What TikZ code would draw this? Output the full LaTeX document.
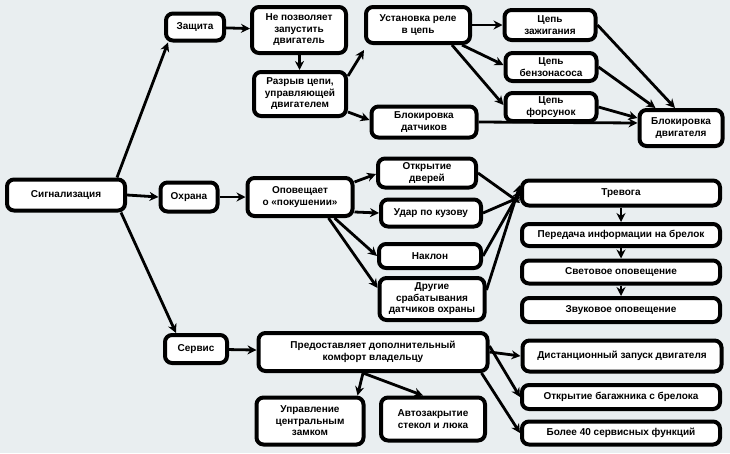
\documentclass[tikz,border=0pt]{standalone}
\usepackage{fontspec}
\setmainfont{Liberation Sans}
\usetikzlibrary{arrows.meta}
\definecolor{bg}{HTML}{E9EEF0}
\begin{document}
\begin{tikzpicture}[x=1pt,y=-1pt,
  box/.style={draw,fill=white,line width=4pt,rounded corners=7pt,align=center,inner sep=1pt,font=\bfseries\fontsize{10}{11.5}\selectfont},
  ar/.style={line width=2.8pt,-{Stealth[length=9pt,width=9pt]}}]
\fill[bg] (0,0) rectangle (730,453);
\useasboundingbox (0,0) rectangle (730,453);
\newcommand\bx[6]{\node[box,minimum width=#4-4,minimum height=#5-4] (#1) at (#2,#3) {#6};}
\bx{sig}{66}{195}{122}{35}{Сигнализация}
\bx{zas}{195}{27}{62}{31}{Защита}
\bx{ohr}{189}{197}{61}{33}{Охрана}
\bx{ser}{196}{349}{66}{32}{Сервис}
\bx{nep}{299}{30}{98}{50}{Не позволяет\\запустить\\двигатель}
\bx{raz}{300}{94}{96}{48}{Разрыв цепи,\\управляющей\\двигателем}
\bx{ust}{418}{25}{108}{40}{Установка реле\\в цепь}
\bx{bld}{424}{122}{109}{35}{Блокировка\\датчиков}
\bx{zaz}{550}{25}{95}{34}{Цепь\\зажигания}
\bx{ben}{551}{67}{95}{32}{Цепь\\бензонасоса}
\bx{for}{551}{107}{95}{32}{Цепь\\форсунок}
\bx{bdv}{681}{128}{87}{40}{Блокировка\\двигателя}
\bx{opo}{300}{197}{109}{42}{Оповещает\\о «покушении»}
\bx{otk}{427}{173}{102}{33}{Открытие\\дверей}
\bx{uda}{431}{213}{104}{31}{Удар по кузову}
\bx{nak}{430}{256}{106}{28}{Наклон}
\bx{dru}{432}{299}{109}{46}{Другие\\срабатывания\\датчиков охраны}
\bx{tre}{621}{193}{202}{29}{Тревога}
\bx{per}{621}{235}{202}{26}{Передача информации на брелок}
\bx{sve}{621}{272}{202}{27}{Световое оповещение}
\bx{zvu}{621}{310}{202}{28}{Звуковое оповещение}
\bx{pre}{373}{352}{233}{42}{Предоставляет дополнительный\\комфорт владельцу}
\bx{dis}{622}{356}{203}{35}{Дистанционный запуск двигателя}
\bx{bag}{621}{397}{202}{28}{Открытие багажника с брелока}
\bx{bol}{621}{433}{202}{27}{Более 40 сервисных функций}
\bx{upr}{310}{421}{111}{51}{Управление\\центральным\\замком}
\bx{avt}{433}{419}{108}{47}{Автозакрытие\\стекол и люка}
\draw[ar] ([xshift=-10pt]sig.north east) -- ([xshift=4pt]zas.south west);
\draw[ar] (sig.east) -- (ohr.west);
\draw[ar] ([xshift=-6pt]sig.south east) -- ([xshift=-20pt]ser.north);
\draw[ar] (zas) -- (nep);
\draw[ar] (nep) -- (raz);
\draw[ar] ([yshift=-6pt]raz.north east) -- ([yshift=-5pt]ust.south west);
\draw[ar] ([yshift=6pt]raz.south east) -- ([yshift=2pt]bld.west);
\draw[ar] (ust.east) -- (zaz.west);
\draw[ar] ([xshift=-10pt]ust.south east) -- ([yshift=2pt]ben.west);
\draw[ar] ([xshift=-20pt]ust.south east) -- ([yshift=2pt]for.west);
\draw[ar] (zaz.east) -- ([xshift=-6pt]bdv.north);
\draw[ar] (ben.east) -- ([xshift=18pt]bdv.north west);
\draw[ar] (for.east) -- ([yshift=10pt]bdv.west);
\draw[ar] (bld.east) -- ([yshift=5pt]bdv.west);
\draw[ar] (ohr) -- (opo);
\draw[ar] ([yshift=-6pt]opo.north east) -- ([yshift=-1pt]otk.west);
\draw[ar] ([yshift=6pt]opo.south east) -- (uda.west);
\draw[ar] ([xshift=-20pt]opo.south east) -- (nak.west);
\draw[ar] ([xshift=-26pt]opo.south east) -- ([yshift=-12pt]dru.north west);
\draw[ar] (otk.east) -- ([yshift=-10pt]tre.west);
\draw[ar] (uda.east) -- ([yshift=-4pt]tre.west);
\draw[ar] (nak.east) -- ([yshift=2pt]tre.west);
\draw[ar] ([yshift=-14pt]dru.north east) -- ([yshift=8pt]tre.west);
\draw[ar] (tre) -- (per);
\draw[ar] (per) -- (sve);
\draw[ar] (sve) -- (zvu);
\draw[ar] (ser) -- (pre);
\draw[ar] (pre.east) -- (dis.west);
\draw[ar] ([yshift=6pt]pre.east) -- (bag.west);
\draw[ar] ([xshift=-8pt]pre.south east) -- (bol.west);
\draw[ar] ([xshift=-10pt]pre.south) -- ([xshift=-8pt]upr.north east);
\draw[ar] ([xshift=-10pt]pre.south) -- ([xshift=-10pt]avt.north);
\end{tikzpicture}
\end{document}
